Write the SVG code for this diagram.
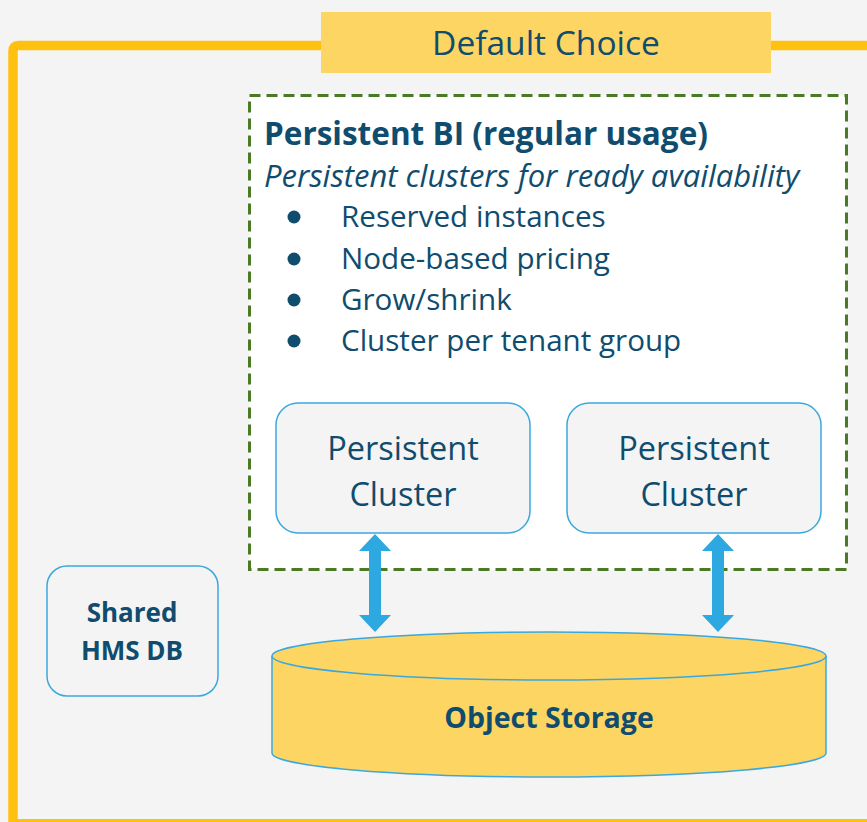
<svg xmlns="http://www.w3.org/2000/svg" width="867" height="822" viewBox="0 0 867 822">
  <style>
    text { font-family: "Open Sans", "Liberation Sans", sans-serif; fill: #0F4C6E; }
    .title { font-size: 33.5px; }
    .head { font-size: 31.5px; font-weight: bold; }
    .sub { font-size: 31px; font-style: italic; }
    .item { font-size: 29.6px; }
    .node { fill: #F4F4F4; stroke: #3AA8DE; stroke-width: 1.5; }
    .ntext { font-size: 32.5px; text-anchor: middle; }
    .btext { font-size: 26px; font-weight: bold; text-anchor: middle; }
    .otext { font-size: 28.5px; font-weight: bold; text-anchor: middle; }
    .cyl { fill: #FDD563; stroke: #3AA8DE; stroke-width: 1.5; }
    .arrow { fill: #2DA8E0; }
  </style>

  <!-- page background -->
  <rect x="0" y="0" width="867" height="822" fill="#F4F4F4"/>

  <!-- outer frame -->
  <path d="M13 826 V51 Q13 45.5 18.5 45.5 H870" fill="none" stroke="#FFC010" stroke-width="9.5"/>
  <path d="M13 823.5 H870" fill="none" stroke="#FFC010" stroke-width="9"/>

  <!-- frame title -->
  <g id="default-choice">
    <rect x="321" y="12" width="450" height="61" fill="#FDD563"/>
    <text class="title" x="546" y="55" text-anchor="middle">Default Choice</text>
  </g>

  <!-- persistent BI group -->
  <g id="persistent-bi">
    <rect x="249.5" y="95.5" width="597" height="474" fill="#FFFFFF" stroke="#4A7A24" stroke-width="3" stroke-dasharray="11 6"/>
    <text class="head" x="264" y="145">Persistent BI (regular usage)</text>
    <text class="sub" x="264" y="187">Persistent clusters for ready availability</text>
    <g class="bullets" fill="#0F4C6E">
      <circle cx="294" cy="217" r="6.5"/>
      <circle cx="294" cy="259" r="6.5"/>
      <circle cx="294" cy="300" r="6.5"/>
      <circle cx="294" cy="341" r="6.5"/>
    </g>
    <text class="item" x="341" y="227">Reserved instances</text>
    <text class="item" x="341" y="269">Node-based pricing</text>
    <text class="item" x="341" y="310">Grow/shrink</text>
    <text class="item" x="341" y="351">Cluster per tenant group</text>
  </g>

  <g id="cluster-1">
    <rect class="node" x="276" y="403" width="254" height="130" rx="22"/>
    <text class="ntext" x="403" y="460">Persistent</text>
    <text class="ntext" x="403" y="506">Cluster</text>
  </g>

  <g id="cluster-2">
    <rect class="node" x="567" y="403" width="254" height="130" rx="22"/>
    <text class="ntext" x="694" y="460">Persistent</text>
    <text class="ntext" x="694" y="506">Cluster</text>
  </g>

  <g id="shared-hms-db">
    <rect class="node" x="47" y="566" width="171" height="130" rx="20"/>
    <text class="btext" x="132" y="622">Shared</text>
    <text class="btext" x="132" y="660">HMS DB</text>
  </g>

  <g id="object-storage">
    <path class="cyl" d="M272 656 V753 A277 24 0 0 0 826 753 V656"/>
    <ellipse class="cyl" cx="549" cy="656" rx="277" ry="24"/>
    <text class="otext" x="549" y="728">Object Storage</text>
  </g>

  <!-- connectors: double-headed arrows between clusters and storage -->
  <g id="connectors">
    <path class="arrow" d="M375 534 L391 551 H381 V615 H391 L375 632 L359 615 H369 V551 H359 Z"/>
    <path class="arrow" d="M718 534 L734 551 H724 V615 H734 L718 632 L702 615 H712 V551 H702 Z"/>
  </g>
</svg>
